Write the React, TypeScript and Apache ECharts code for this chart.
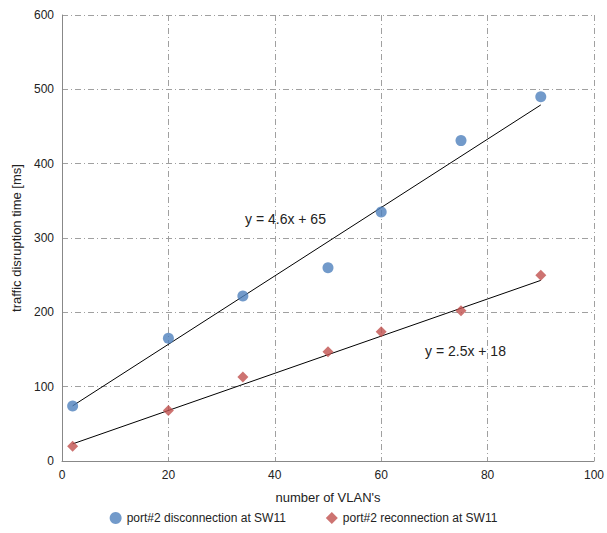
import * as echarts from "echarts";
import { useEffect, useRef } from "react";

const vlans = [2, 20, 34, 50, 60, 75, 90];
const disconnect = [74, 165, 222, 260, 335, 431, 490];
const reconnect = [20, 68, 113, 147, 174, 202, 250];
const fitDisc = { slope: 4.6, intercept: 65, label: "y = 4.6x + 65" };
const fitRec = { slope: 2.5, intercept: 18, label: "y = 2.5x + 18" };

const FONT = "Liberation Sans";

export default function App() {
  const ref = useRef<HTMLDivElement | null>(null);

  useEffect(() => {
    if (!ref.current) return;
    const chart = echarts.init(ref.current, null, { renderer: "svg" });
    const x0 = vlans[0];
    const x1 = vlans[vlans.length - 1];
    const fitLine = (f: typeof fitDisc) => [
      [x0, f.slope * x0 + f.intercept],
      [x1, f.slope * x1 + f.intercept],
    ];
    const gridLine = { show: true, lineStyle: { color: "#a0a0a0", type: [6, 3, 1, 3] } };
    chart.setOption({
      animation: false,
      textStyle: { fontFamily: FONT },
      grid: { left: 62, right: 8, top: 15, bottom: 72 },
      legend: {
        bottom: 4,
        itemGap: 40,
        itemWidth: 12,
        itemHeight: 12,
        textStyle: { fontSize: 12, color: "#222" },
        data: [
          { name: "port#2 disconnection at SW11", icon: "circle" },
          { name: "port#2 reconnection at SW11", icon: "diamond" },
        ],
      },
      xAxis: {
        type: "value",
        min: 0,
        max: 100,
        interval: 20,
        name: "number of VLAN's",
        nameLocation: "middle",
        nameGap: 30,
        nameTextStyle: { fontSize: 13, color: "#222" },
        axisLine: { lineStyle: { color: "#888" } },
        axisTick: { show: false },
        axisLabel: { color: "#222", fontSize: 12 },
        splitLine: gridLine,
      },
      yAxis: {
        type: "value",
        min: 0,
        max: 600,
        interval: 100,
        name: "traffic disruption time [ms]",
        nameLocation: "middle",
        nameGap: 38,
        nameTextStyle: { fontSize: 13, color: "#222" },
        axisLine: { show: true, lineStyle: { color: "#888" } },
        axisTick: { show: false },
        axisLabel: { color: "#222", fontSize: 12 },
        splitLine: gridLine,
      },
      series: [
        {
          name: "port#2 disconnection at SW11",
          type: "scatter",
          symbol: "circle",
          symbolSize: 11,
          itemStyle: { color: "#4f81bd" },
          data: vlans.map((v, i) => [v, disconnect[i]]),
          z: 3,
        },
        {
          name: "port#2 reconnection at SW11",
          type: "scatter",
          symbol: "diamond",
          symbolSize: 11,
          itemStyle: { color: "#c0504d" },
          data: vlans.map((v, i) => [v, reconnect[i]]),
          z: 3,
        },
        {
          type: "line",
          showSymbol: false,
          silent: true,
          lineStyle: { color: "#000", width: 1 },
          data: fitLine(fitDisc),
        },
        {
          type: "line",
          showSymbol: false,
          silent: true,
          lineStyle: { color: "#000", width: 1 },
          data: fitLine(fitRec),
        },
      ],
      graphic: [
        { type: "text", left: 245, top: 212, style: { text: fitDisc.label, fontSize: 14, fontFamily: FONT, fill: "#222" } },
        { type: "text", left: 425, top: 344, style: { text: fitRec.label, fontSize: 14, fontFamily: FONT, fill: "#222" } },
      ],
    });
    return () => chart.dispose();
  }, []);

  return (
    <div
      ref={ref}
      style={{ position: "absolute", left: 0, top: 0, width: 607, height: 533, background: "#fff" }}
    />
  );
}
